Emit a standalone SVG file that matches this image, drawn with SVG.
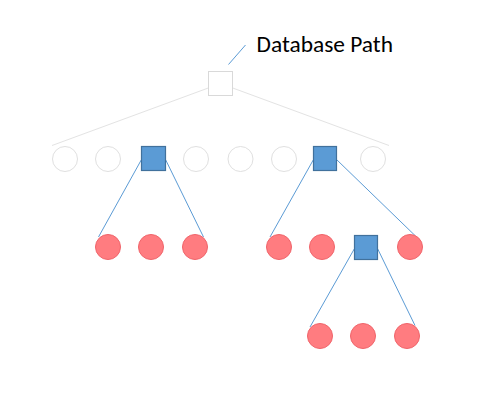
<svg xmlns="http://www.w3.org/2000/svg" width="499" height="400" viewBox="0 0 499 400">
<style>
.g{stroke:#e3e3e3;stroke-width:1;fill:none}
.b{stroke:#5b9bd5;stroke-width:1;fill:none}
.gc{fill:#ffffff;stroke:#e0e0e0;stroke-width:1}
.rc{fill:#ff7c80;stroke:#f0646a;stroke-width:1}
.bs{fill:#5b9bd5;stroke:#41719c;stroke-width:1.2}
.ws{fill:#ffffff;stroke:#d9d9d9;stroke-width:1}
text{font-family:"Carlito","Liberation Sans",sans-serif;font-size:22.5px;fill:#000}
</style>
<rect width="499" height="400" fill="#ffffff"/>
<g id="connectors">
<line class="g" x1="220.5" y1="83.5" x2="52" y2="145.5"/>
<line class="g" x1="220.5" y1="83.5" x2="389" y2="145.5"/>
<line class="b" x1="228.5" y1="64.5" x2="245.5" y2="45"/>
<line class="b" x1="141.5" y1="159.5" x2="98.5" y2="237"/>
<line class="b" x1="165.5" y1="159.5" x2="203.5" y2="237"/>
<line class="b" x1="313.5" y1="159.5" x2="270" y2="237"/>
<line class="b" x1="336.5" y1="159.5" x2="415.5" y2="236"/>
<line class="b" x1="354.5" y1="248.5" x2="310" y2="327"/>
<line class="b" x1="377.5" y1="248.5" x2="415" y2="325.5"/>
</g>
<g id="root"><rect class="ws" x="208.5" y="71.5" width="24" height="24"/></g>
<g id="label"><text x="256.5" y="51.7" textLength="136.5" lengthAdjust="spacingAndGlyphs">Database Path</text></g>
<g id="r2c1"><circle class="gc" cx="65" cy="159" r="12.5"/></g>
<g id="r2c2"><circle class="gc" cx="108" cy="159" r="12.5"/></g>
<g id="r2s1"><rect class="bs" x="141.5" y="146.5" width="24" height="24"/></g>
<g id="r2c4"><circle class="gc" cx="196" cy="159" r="12.5"/></g>
<g id="r2c5"><circle class="gc" cx="240.5" cy="159" r="12.5"/></g>
<g id="r2c6"><circle class="gc" cx="284" cy="159" r="12.5"/></g>
<g id="r2s2"><rect class="bs" x="313.5" y="146.5" width="23" height="24"/></g>
<g id="r2c8"><circle class="gc" cx="373" cy="159" r="12.5"/></g>
<g id="r3c1"><circle class="rc" cx="108" cy="247" r="12.5"/></g>
<g id="r3c2"><circle class="rc" cx="151" cy="247" r="12.5"/></g>
<g id="r3c3"><circle class="rc" cx="195" cy="247" r="12.5"/></g>
<g id="r3c4"><circle class="rc" cx="279" cy="247" r="12.5"/></g>
<g id="r3c5"><circle class="rc" cx="322" cy="247" r="12.5"/></g>
<g id="r3s"><rect class="bs" x="354.5" y="235.5" width="23" height="24"/></g>
<g id="r3c7"><circle class="rc" cx="410" cy="247" r="12.5"/></g>
<g id="r4c1"><circle class="rc" cx="320" cy="336" r="12.5"/></g>
<g id="r4c2"><circle class="rc" cx="363" cy="336" r="12.5"/></g>
<g id="r4c3"><circle class="rc" cx="407" cy="336" r="12.5"/></g>
</svg>
